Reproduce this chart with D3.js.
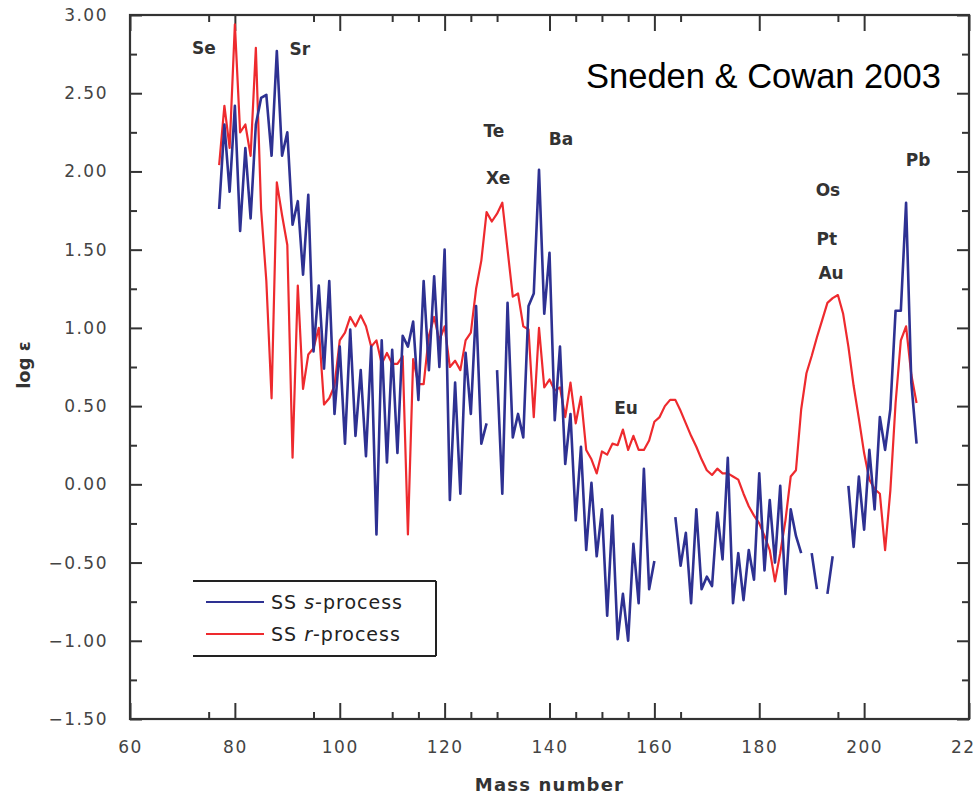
<!DOCTYPE html>
<html>
<head>
<meta charset="utf-8">
<script src="https://cdn.jsdelivr.net/npm/d3@7"></script>
<style>
  html, body { margin: 0; padding: 0; background: #fff; }
  svg { display: block; }
</style>
</head>
<body>
<svg id="chart" width="976" height="798"></svg>
<script>
// ---------------- DATA ----------------
const massNumber = [
  77,78,79,80,81,82,83,84,85,86,87,88,89,90,91,92,93,94,95,96,97,98,99,100,
  101,102,103,104,105,106,107,108,109,110,111,112,113,114,115,116,117,118,119,120,
  121,122,123,124,125,126,127,128,129,130,131,132,133,134,135,136,137,138,139,140,
  141,142,143,144,145,146,147,148,149,150,151,152,153,154,155,156,157,158,159,160,
  161,162,163,164,165,166,167,168,169,170,171,172,173,174,175,176,177,178,179,180,
  181,182,183,184,185,186,187,188,189,190,191,192,193,194,195,196,197,198,199,200,
  201,202,203,204,205,206,207,208,209,210
];
const sProcess = [
  1.76,2.30,1.87,2.42,1.62,2.15,1.70,2.30,2.47,2.49,2.10,2.77,2.10,2.25,1.66,1.81,1.34,1.85,0.85,1.27,0.74,1.30,0.45,0.88,
  0.26,0.99,0.31,0.73,0.18,0.88,-0.32,0.92,0.14,0.86,0.20,0.95,0.88,1.04,0.54,1.30,0.73,1.33,0.75,1.50,
  -0.10,0.65,-0.06,0.84,0.45,1.14,0.26,0.39,null,0.73,-0.06,1.16,0.30,0.45,0.30,1.14,1.22,2.01,1.09,1.48,
  0.41,0.88,0.13,0.45,-0.23,0.24,-0.42,0.01,-0.46,-0.16,-0.84,-0.20,-0.99,-0.70,-1.00,-0.38,-0.76,0.10,-0.67,-0.49,
  null,null,null,-0.21,-0.52,-0.31,-0.76,-0.16,-0.67,-0.59,-0.65,-0.18,-0.48,0.17,-0.76,-0.44,-0.74,-0.42,-0.61,0.07,
  -0.55,-0.10,-0.50,-0.01,-0.70,-0.16,-0.33,-0.44,null,-0.44,-0.67,null,-0.70,-0.46,null,null,-0.01,-0.40,0.05,-0.29,
  0.22,-0.16,0.43,0.22,0.48,1.11,1.11,1.80,0.65,0.26
];
const rProcess = [
  2.04,2.42,2.15,2.94,2.25,2.30,2.10,2.79,1.76,1.30,0.55,1.93,1.72,1.53,0.17,1.27,0.61,0.83,0.87,1.00,0.51,0.55,0.63,0.92,
  0.97,1.07,1.01,1.08,1.01,0.88,0.92,0.77,0.84,0.77,0.77,0.82,-0.32,0.80,0.64,0.64,0.95,1.07,0.92,1.01,
  0.75,0.79,0.73,0.92,0.97,1.25,1.43,1.74,1.68,1.73,1.80,1.50,1.20,1.22,1.01,0.99,0.43,1.00,0.62,0.67,
  0.60,0.62,0.43,0.65,0.39,0.56,0.22,0.16,0.07,0.21,0.19,0.26,0.25,0.35,0.22,0.31,0.22,0.22,0.28,0.40,
  0.43,0.50,0.54,0.54,0.47,0.39,0.31,0.24,0.16,0.09,0.06,0.10,0.07,0.07,0.05,0.03,-0.06,-0.14,-0.20,-0.25,
  -0.33,-0.42,-0.62,-0.44,-0.23,0.05,0.09,0.48,0.71,0.82,0.94,1.05,1.16,1.19,1.21,1.09,0.88,0.63,0.42,0.20,
  0.03,-0.03,-0.06,-0.42,-0.04,0.52,0.92,1.01,0.70,0.52
];
const xMajorTicks = [60,80,100,120,140,160,180,200,220];
const xMinorTicks = [75,95,110,115,125,130,145,150,155,165,195];
const yMajorTicks = [-1.5,-1.0,-0.5,0.0,0.5,1.0,1.5,2.0,2.5,3.0];
const yMinorTicks = [-1.25,-0.75,-0.25,0.25,0.75,1.25,1.75,2.25,2.75];
const elementLabels = ["Se","Sr","Te","Xe","Ba","Eu","Os","Pt","Au","Pb"];
const elementMass   = [74.1,92.4,129.4,130.2,142.2,154.6,193.1,192.9,193.7,210.3];
const elementLogE   = [2.79,2.78,2.26,1.96,2.21,0.49,1.88,1.57,1.35,2.07];
const seriesNames = ["SS s-process","SS r-process"];
const seriesColors = ["#2e3192","#ee2a2e"];

// ---------------- CHART ----------------
const svg = d3.select("#chart");
const x = d3.scaleLinear().domain([60, 220]).range([130, 969]);
const y = d3.scaleLinear().domain([-1.5, 3.0]).range([719, 15]);
const axisColor = "#333";
const labelFont = "'DejaVu Sans', 'Liberation Sans', Arial, sans-serif";

const gAxes = svg.append("g");

function styleAxis(g) {
  g.select(".domain").remove();
  g.selectAll(".tick line").attr("stroke", axisColor).attr("stroke-width", 2);
  g.selectAll(".tick text").attr("fill", "#444").style("font-family", labelFont)
    .style("font-size", "17px").style("letter-spacing", "1.5px");
}

// bottom
gAxes.append("g").attr("transform", `translate(0,${y(-1.5)})`)
  .call(d3.axisBottom(x).tickValues(xMajorTicks).tickSizeInner(-16).tickSizeOuter(0).tickPadding(22).tickFormat(d3.format("d")))
  .call(styleAxis);
gAxes.append("g").attr("transform", `translate(0,${y(-1.5)})`)
  .call(d3.axisBottom(x).tickValues(xMinorTicks).tickSizeInner(-7).tickSizeOuter(0).tickFormat(""))
  .call(styleAxis);
// top
gAxes.append("g").attr("transform", `translate(0,${y(3)})`)
  .call(d3.axisTop(x).tickValues(xMajorTicks).tickSizeInner(-16).tickSizeOuter(0).tickFormat(""))
  .call(styleAxis);
gAxes.append("g").attr("transform", `translate(0,${y(3)})`)
  .call(d3.axisTop(x).tickValues(xMinorTicks).tickSizeInner(-7).tickSizeOuter(0).tickFormat(""))
  .call(styleAxis);
// left
gAxes.append("g").attr("transform", `translate(${x(60)},0)`)
  .call(d3.axisLeft(y).tickValues(yMajorTicks).tickSizeInner(-12).tickSizeOuter(0).tickPadding(22).tickFormat(d3.format(".2f")))
  .call(styleAxis);
gAxes.append("g").attr("transform", `translate(${x(60)},0)`)
  .call(d3.axisLeft(y).tickValues(yMinorTicks).tickSizeInner(-7).tickSizeOuter(0).tickFormat(""))
  .call(styleAxis);
// right
gAxes.append("g").attr("transform", `translate(${x(220)},0)`)
  .call(d3.axisRight(y).tickValues(yMajorTicks).tickSizeInner(-12).tickSizeOuter(0).tickFormat(""))
  .call(styleAxis);
gAxes.append("g").attr("transform", `translate(${x(220)},0)`)
  .call(d3.axisRight(y).tickValues(yMinorTicks).tickSizeInner(-7).tickSizeOuter(0).tickFormat(""))
  .call(styleAxis);

// frame
svg.append("rect")
  .attr("x", x(60)).attr("y", y(3))
  .attr("width", x(220) - x(60)).attr("height", y(-1.5) - y(3))
  .attr("fill", "none").attr("stroke", axisColor).attr("stroke-width", 2.2);

// series
const sData = massNumber.map((m, i) => ({m, v: sProcess[i]}));
const rData = massNumber.map((m, i) => ({m, v: rProcess[i]}));
const line = d3.line().defined(d => d.v !== null).x(d => x(d.m)).y(d => y(d.v));

svg.append("path").datum(rData).attr("d", line)
  .attr("fill", "none").attr("stroke", seriesColors[1]).attr("stroke-width", 2.2)
  .attr("stroke-linejoin", "round");
svg.append("path").datum(sData).attr("d", line)
  .attr("fill", "none").attr("stroke", seriesColors[0]).attr("stroke-width", 2.6)
  .attr("stroke-linejoin", "round");

// element labels
svg.append("g").selectAll("text").data(elementLabels).join("text")
  .attr("x", (d, i) => x(elementMass[i]))
  .attr("y", (d, i) => y(elementLogE[i]))
  .attr("text-anchor", "middle")
  .attr("dy", "0.35em")
  .attr("fill", "#333")
  .style("font-family", labelFont).style("font-weight", "bold").style("font-size", "17px")
  .text(d => d);

// axis titles
svg.append("text")
  .attr("x", (x(60) + x(220)) / 2).attr("y", 791)
  .attr("text-anchor", "middle").attr("fill", "#333")
  .style("font-family", labelFont).style("font-weight", "bold").style("font-size", "18px")
  .style("letter-spacing", "1.2px")
  .text("Mass number");

svg.append("text")
  .attr("transform", `translate(30,${(y(-1.5) + y(3)) / 2 - 2}) rotate(-90)`)
  .attr("text-anchor", "middle").attr("fill", "#333")
  .style("font-family", labelFont).style("font-weight", "bold").style("font-size", "18px")
  .text("log \u03B5");

// annotation
svg.append("text")
  .attr("x", 586).attr("y", 88)
  .attr("fill", "#000")
  .style("font-family", "'Liberation Sans', Arial, Helvetica, sans-serif").style("font-size", "34.5px")
  .text("Sneden & Cowan 2003");

// legend
const lg = svg.append("g");
const lgLeft = 193, lgRight = 436, lgTop = 581, lgBottom = 656;
lg.append("line").attr("x1", lgLeft).attr("x2", lgRight).attr("y1", lgTop).attr("y2", lgTop)
  .attr("stroke", "#222").attr("stroke-width", 2);
lg.append("line").attr("x1", lgLeft).attr("x2", lgRight).attr("y1", lgBottom).attr("y2", lgBottom)
  .attr("stroke", "#222").attr("stroke-width", 2);
lg.append("line").attr("x1", lgRight).attr("x2", lgRight).attr("y1", lgTop).attr("y2", lgBottom)
  .attr("stroke", "#222").attr("stroke-width", 2);

const legendRows = lg.selectAll("g.row").data(seriesNames).join("g")
  .attr("class", "row")
  .attr("transform", (d, i) => `translate(0,${602 + i * 32})`);
legendRows.append("line").attr("x1", 206).attr("x2", 264).attr("y1", 0).attr("y2", 0)
  .attr("stroke", (d, i) => seriesColors[i]).attr("stroke-width", 2);
legendRows.each(function(d) {
  const t = d3.select(this).append("text")
    .attr("x", 271).attr("y", 0).attr("dy", "0.36em")
    .attr("fill", "#222")
    .style("font-family", labelFont).style("font-size", "19px").style("letter-spacing", "1px");
  const parts = d.split(" ");
  t.append("tspan").text("SS ");
  const rest = parts[1];
  t.append("tspan").style("font-style", "italic").text(rest.charAt(0));
  t.append("tspan").text(rest.slice(1));
});
</script>
</body>
</html>
